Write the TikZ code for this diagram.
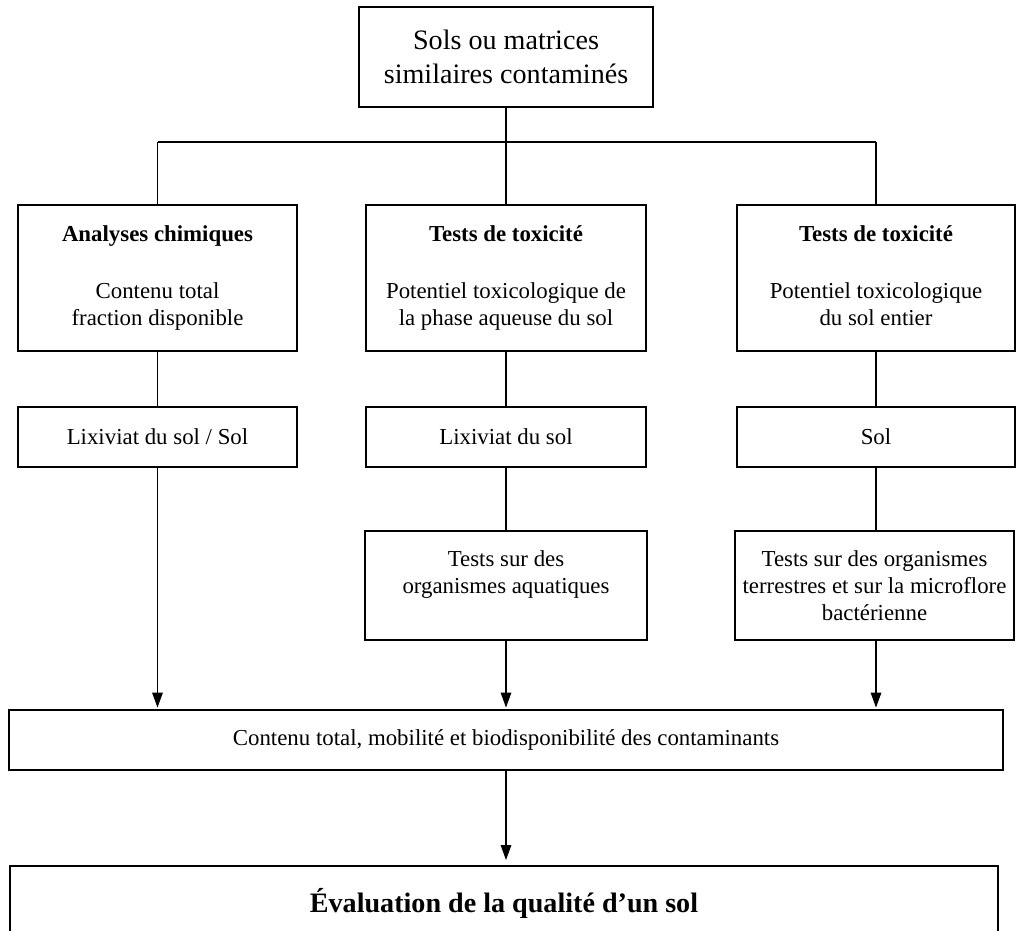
\documentclass[tikz,border=0pt]{standalone}
\usepackage{fontspec}
\setmainfont{Liberation Serif}
\usepackage{tikz}
\usetikzlibrary{arrows.meta}

\newcommand{\txt}{\fontsize{13}{15.5}\selectfont}
\newcommand{\bigtxt}{\fontsize{16}{19.5}\selectfont}

\begin{document}
\begin{tikzpicture}[x=0.02cm, y=-0.02cm]
        \tikzstyle{boxStyle} = [rectangle, draw=black, line width=0.8pt, fill=white,
                align=center, inner xsep=1pt, font=\txt]
        \tikzstyle{lineStyle} = [draw=black, line width=0.7pt]
        \tikzstyle{arrowStyle} = [lineStyle, -{Triangle[length=8.5pt,width=6pt]}]
        \useasboundingbox (0,0) rectangle (1016,930);
        \node[boxStyle, font=\bigtxt, minimum width=5.88cm, minimum height=2cm] (top) at (506,57)
            {Sols ou matrices\\similaires contaminés};
        \node[boxStyle, minimum width=5.58cm, minimum height=2.92cm] (chim) at (157.5,278)
            {\strut\textbf{Analyses chimiques}\\[17pt]Contenu total\\fraction disponible\strut};
        \node[boxStyle, minimum width=5.6cm, minimum height=2.92cm] (toxa) at (506,278)
            {\strut\textbf{Tests de toxicité}\\[17pt]Potentiel toxicologique de\\la phase aqueuse du sol\strut};
        \node[boxStyle, minimum width=5.56cm, minimum height=2.92cm] (toxb) at (876,278)
            {\strut\textbf{Tests de toxicité}\\[17pt]Potentiel toxicologique\\du sol entier\strut};
        \node[boxStyle, minimum width=5.58cm, minimum height=1.2cm] (lixa) at (157.5,437) {Lixiviat du sol / Sol};
        \node[boxStyle, minimum width=5.6cm, minimum height=1.2cm] (lixb) at (506,437) {Lixiviat du sol};
        \node[boxStyle, minimum width=5.56cm, minimum height=1.2cm] (sol) at (876,437) {Sol};
        \node[boxStyle, minimum width=5.64cm, minimum height=2.18cm] (aqua) at (506,585.5)
            {Tests sur des\\organismes aquatiques\\\mbox{}};
        \node[boxStyle, inner xsep=0.5pt, minimum width=5.58cm, minimum height=2.18cm] (terr) at (874.5,585.5)
            {Tests sur des organismes\\terrestres et sur la microflore\\bactérienne};
        \node[boxStyle, minimum width=19.88cm, minimum height=1.2cm] (res) at (506,740)
            {Contenu total, mobilité et biodisponibilité des contaminants};
        \node[boxStyle, font=\bigtxt\bfseries, minimum width=19.76cm, minimum height=1.48cm] (eval) at (504,903)
            {Évaluation de la qualité d’un sol};
        \coordinate (bar) at (506,142);
        \path[lineStyle] (top.south) edge (bar);
        \path[lineStyle] (chim.north |- bar) edge (toxb.north |- bar);
        \foreach \n in {chim,toxa,toxb}
            \path[lineStyle] (\n.north) edge (\n.north |- bar);
        \foreach \from/\to in {chim/lixa,toxa/lixb,toxb/sol,lixb/aqua}
            \path[lineStyle] (\from) edge (\to);
        \path[lineStyle] (sol.south) edge (sol.south |- terr.north);
        \foreach \from in {lixa,aqua}
            \draw[arrowStyle] (\from.south) -- ([yshift=1pt]\from.south |- res.north);
        \draw[arrowStyle] (terr.south -| sol) -- ([yshift=1pt]sol.south |- res.north);
        \draw[arrowStyle, shorten >=3pt] (res.south) -- (res.south |- eval.north);
    \end{tikzpicture}
\end{document}
